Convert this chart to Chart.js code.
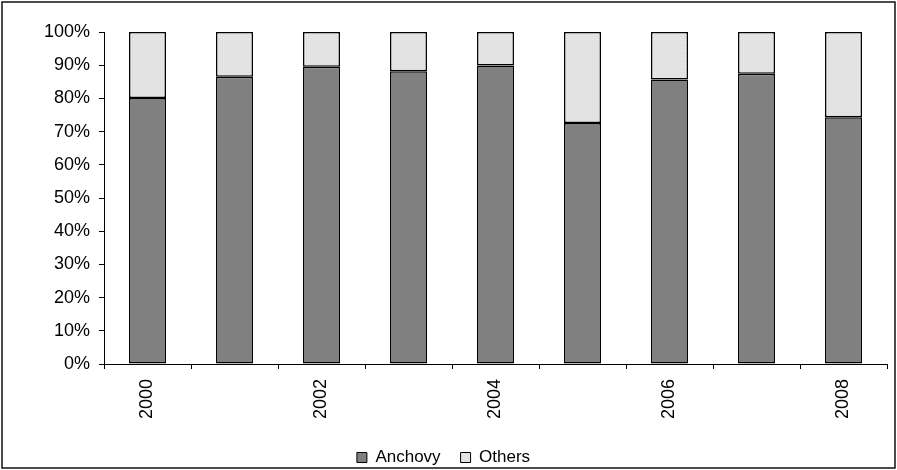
<!DOCTYPE html>
<html>
<head>
<meta charset="utf-8">
<script src="https://cdn.jsdelivr.net/npm/chart.js@4/dist/chart.umd.min.js"></script>
<style>
  html, body { margin: 0; padding: 0; background: #fff; }
  #wrap { width: 897px; height: 470px; }
</style>
</head>
<body>
<div id="wrap"><canvas id="c" width="897" height="470"></canvas></div>
<script>
// Catch composition by year (share of total, %)
const years = ['2000', '2001', '2002', '2003', '2004', '2005', '2006', '2007', '2008'];
const anchovy = [80.1, 86.5, 89.5, 88.2, 89.9, 72.6, 85.7, 87.4, 74.3];
const others = [19.9, 13.5, 10.5, 11.8, 10.1, 27.4, 14.3, 12.6, 25.7];
const yTicks = [0, 10, 20, 30, 40, 50, 60, 70, 80, 90, 100];

const FONT = 'Arial, "Liberation Sans", sans-serif';

// Fine light-grey texture for the "Others" segments
function makeTexture() {
  const p = document.createElement('canvas');
  p.width = 4; p.height = 4;
  const g = p.getContext('2d');
  g.fillStyle = '#e3e3e3';
  g.fillRect(0, 0, 4, 4);
  g.fillStyle = '#dbdbdb';
  g.fillRect(0, 0, 1, 1);
  g.fillRect(2, 2, 1, 1);
  g.fillStyle = '#ebebeb';
  g.fillRect(1, 3, 1, 1);
  g.fillRect(3, 1, 1, 1);
  return g.createPattern(p, 'repeat');
}
const texture = makeTexture();

// Thin frame around the whole figure
const framePlugin = {
  id: 'frame',
  afterDraw(chart) {
    const ctx = chart.ctx;
    ctx.save();
    ctx.strokeStyle = '#111';
    ctx.lineWidth = 1.5;
    ctx.strokeRect(2, 2, 893, 466);
    ctx.restore();
  }
};

new Chart(document.getElementById('c'), {
  type: 'bar',
  data: {
    labels: years,
    datasets: [
      {
        label: 'Anchovy',
        data: anchovy,
        backgroundColor: '#808080',
        borderColor: '#000',
        borderWidth: 1.5,
        borderSkipped: false
      },
      {
        label: 'Others',
        data: others,
        backgroundColor: texture,
        borderColor: '#000',
        borderWidth: 1.5,
        borderSkipped: false
      }
    ]
  },
  options: {
    responsive: false,
    animation: false,
    devicePixelRatio: 1,
    layout: { padding: { top: 32, right: 10, bottom: -6, left: 0 } },
    datasets: { bar: { categoryPercentage: 1, barPercentage: 0.425 } },
    plugins: {
      tooltip: { enabled: false },
      legend: {
        position: 'bottom',
        labels: {
          font: { family: FONT, size: 17 },
          color: '#000',
          boxWidth: 10,
          boxHeight: 10,
          padding: 20,
          generateLabels(chart) {
            return chart.data.datasets.map((ds, i) => ({
              text: ds.label,
              fillStyle: i === 0 ? '#808080' : '#e4e4e4',
              strokeStyle: '#000',
              lineWidth: 1,
              datasetIndex: i
            }));
          }
        }
      }
    },
    scales: {
      x: {
        stacked: true,
        offset: true,
        afterFit(scale) { scale.height = 65; },
        grid: {
          offset: true,
          drawOnChartArea: false,
          drawTicks: true,
          tickLength: 5,
          color: '#000'
        },
        border: { display: true, color: '#000', width: 1 },
        ticks: {
          autoSkip: false,
          maxRotation: 90,
          minRotation: 90,
          padding: 10,
          color: '#000',
          font: { family: FONT, size: 18 },
          callback(value, index) {
            return index % 2 === 0 ? years[index] : '';
          }
        }
      },
      y: {
        stacked: true,
        min: 0,
        max: 100,
        afterFit(scale) { scale.width = 104; },
        afterBuildTicks(scale) { scale.ticks = yTicks.map(v => ({ value: v })); },
        grid: {
          drawOnChartArea: false,
          drawTicks: true,
          tickLength: 5,
          color: '#000'
        },
        border: { display: true, color: '#000', width: 1 },
        ticks: {
          padding: 9,
          color: '#000',
          font: { family: FONT, size: 18 },
          callback(value) { return value + '%'; }
        }
      }
    }
  },
  plugins: [framePlugin]
});
</script>
</body>
</html>
